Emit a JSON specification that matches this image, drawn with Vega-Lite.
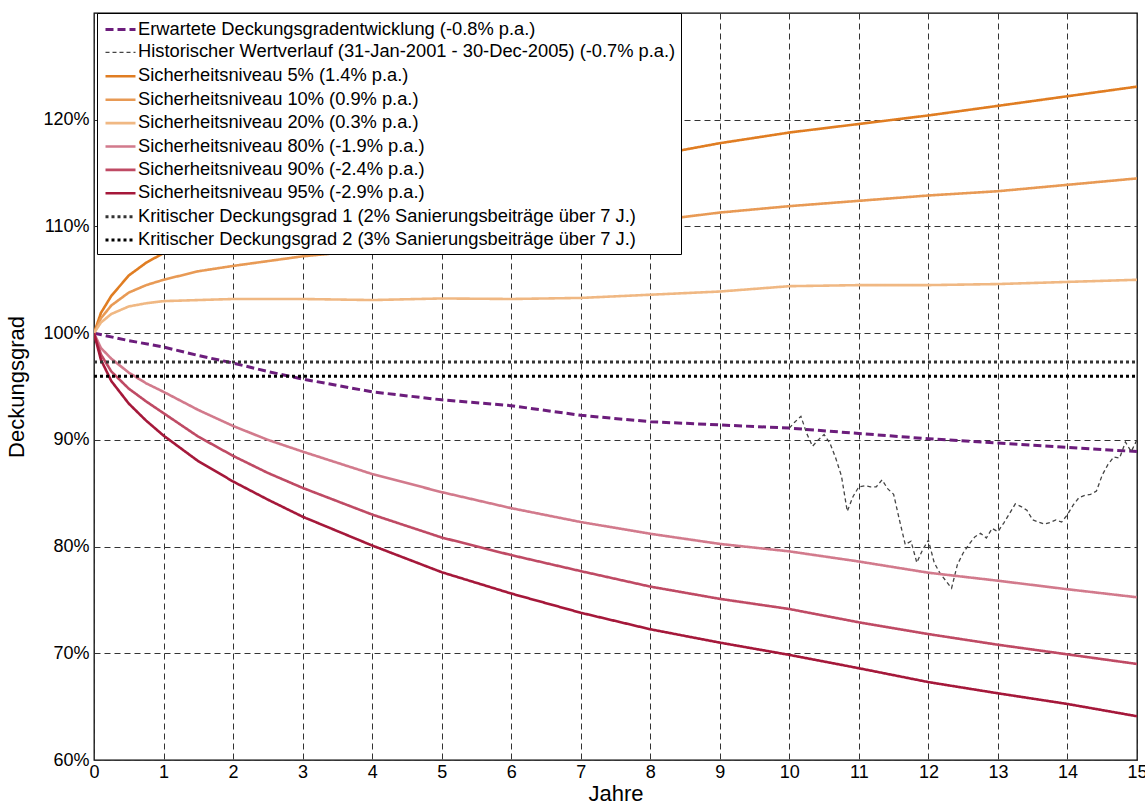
{
  "$schema": "https://vega.github.io/schema/vega-lite/v6.json",
  "autosize": {"type": "none"},
  "padding": {"left": 94, "top": 13, "right": 8, "bottom": 48},
  "width": 1043,
  "height": 747,
  "background": "white",
  "config": {
    "font": "Liberation Sans",
    "view": {"stroke": "#000000", "strokeWidth": 1.3},
    "axis": {
      "domain": false,
      "ticks": false,
      "grid": true,
      "gridColor": "#333333",
      "gridDash": [6, 4],
      "gridWidth": 1,
      "labelFont": "Liberation Sans",
      "labelFontSize": 18,
      "labelColor": "#000000",
      "labelFlush": false,
      "labelOverlap": false,
      "titleFont": "Liberation Sans",
      "titleFontSize": 22,
      "titleFontWeight": "normal",
      "titleColor": "#000000"
    },
    "legend": {
      "title": null,
      "orient": "none",
      "legendX": 3,
      "legendY": 0,
      "direction": "vertical",
      "fillColor": "white",
      "strokeColor": "#000000",
      "padding": 5,
      "rowPadding": 3.4,
      "labelFont": "Liberation Sans",
      "labelFontSize": 18.3,
      "labelColor": "#000000",
      "labelLimit": 900,
      "symbolType": "M-1.5,0H1.5",
      "symbolSize": 400,
      "symbolOffset": 7,
      "labelOffset": 6
    }
  },
  "data": {
    "values": [
      {"s": "Erwartete Deckungsgradentwicklung (-0.8% p.a.)", "t": 0, "v": 100},
      {"s": "Erwartete Deckungsgradentwicklung (-0.8% p.a.)", "t": 0.5, "v": 99.3},
      {"s": "Erwartete Deckungsgradentwicklung (-0.8% p.a.)", "t": 1, "v": 98.7},
      {"s": "Erwartete Deckungsgradentwicklung (-0.8% p.a.)", "t": 1.5, "v": 97.9},
      {"s": "Erwartete Deckungsgradentwicklung (-0.8% p.a.)", "t": 2, "v": 97.2},
      {"s": "Erwartete Deckungsgradentwicklung (-0.8% p.a.)", "t": 2.5, "v": 96.4},
      {"s": "Erwartete Deckungsgradentwicklung (-0.8% p.a.)", "t": 3, "v": 95.7},
      {"s": "Erwartete Deckungsgradentwicklung (-0.8% p.a.)", "t": 4, "v": 94.5},
      {"s": "Erwartete Deckungsgradentwicklung (-0.8% p.a.)", "t": 5, "v": 93.75},
      {"s": "Erwartete Deckungsgradentwicklung (-0.8% p.a.)", "t": 6, "v": 93.2},
      {"s": "Erwartete Deckungsgradentwicklung (-0.8% p.a.)", "t": 7, "v": 92.3},
      {"s": "Erwartete Deckungsgradentwicklung (-0.8% p.a.)", "t": 8, "v": 91.7},
      {"s": "Erwartete Deckungsgradentwicklung (-0.8% p.a.)", "t": 9, "v": 91.4},
      {"s": "Erwartete Deckungsgradentwicklung (-0.8% p.a.)", "t": 10, "v": 91.1},
      {"s": "Erwartete Deckungsgradentwicklung (-0.8% p.a.)", "t": 11, "v": 90.6},
      {"s": "Erwartete Deckungsgradentwicklung (-0.8% p.a.)", "t": 12, "v": 90.1},
      {"s": "Erwartete Deckungsgradentwicklung (-0.8% p.a.)", "t": 13, "v": 89.7},
      {"s": "Erwartete Deckungsgradentwicklung (-0.8% p.a.)", "t": 14, "v": 89.3},
      {"s": "Erwartete Deckungsgradentwicklung (-0.8% p.a.)", "t": 15, "v": 88.9},

      {"s": "Historischer Wertverlauf (31-Jan-2001 - 30-Dec-2005) (-0.7% p.a.)", "t": 10.0, "v": 91.1},
      {"s": "Historischer Wertverlauf (31-Jan-2001 - 30-Dec-2005) (-0.7% p.a.)", "t": 10.0833, "v": 91.7},
      {"s": "Historischer Wertverlauf (31-Jan-2001 - 30-Dec-2005) (-0.7% p.a.)", "t": 10.1667, "v": 92.2},
      {"s": "Historischer Wertverlauf (31-Jan-2001 - 30-Dec-2005) (-0.7% p.a.)", "t": 10.25, "v": 90.6},
      {"s": "Historischer Wertverlauf (31-Jan-2001 - 30-Dec-2005) (-0.7% p.a.)", "t": 10.3333, "v": 89.4},
      {"s": "Historischer Wertverlauf (31-Jan-2001 - 30-Dec-2005) (-0.7% p.a.)", "t": 10.4167, "v": 90.0},
      {"s": "Historischer Wertverlauf (31-Jan-2001 - 30-Dec-2005) (-0.7% p.a.)", "t": 10.5, "v": 90.5},
      {"s": "Historischer Wertverlauf (31-Jan-2001 - 30-Dec-2005) (-0.7% p.a.)", "t": 10.5833, "v": 89.7},
      {"s": "Historischer Wertverlauf (31-Jan-2001 - 30-Dec-2005) (-0.7% p.a.)", "t": 10.6667, "v": 88.3},
      {"s": "Historischer Wertverlauf (31-Jan-2001 - 30-Dec-2005) (-0.7% p.a.)", "t": 10.75, "v": 86.6},
      {"s": "Historischer Wertverlauf (31-Jan-2001 - 30-Dec-2005) (-0.7% p.a.)", "t": 10.8333, "v": 83.3},
      {"s": "Historischer Wertverlauf (31-Jan-2001 - 30-Dec-2005) (-0.7% p.a.)", "t": 10.9167, "v": 84.7},
      {"s": "Historischer Wertverlauf (31-Jan-2001 - 30-Dec-2005) (-0.7% p.a.)", "t": 11.0, "v": 85.6},
      {"s": "Historischer Wertverlauf (31-Jan-2001 - 30-Dec-2005) (-0.7% p.a.)", "t": 11.0833, "v": 85.7},
      {"s": "Historischer Wertverlauf (31-Jan-2001 - 30-Dec-2005) (-0.7% p.a.)", "t": 11.1667, "v": 85.6},
      {"s": "Historischer Wertverlauf (31-Jan-2001 - 30-Dec-2005) (-0.7% p.a.)", "t": 11.25, "v": 85.6},
      {"s": "Historischer Wertverlauf (31-Jan-2001 - 30-Dec-2005) (-0.7% p.a.)", "t": 11.3333, "v": 86.25},
      {"s": "Historischer Wertverlauf (31-Jan-2001 - 30-Dec-2005) (-0.7% p.a.)", "t": 11.4167, "v": 85.4},
      {"s": "Historischer Wertverlauf (31-Jan-2001 - 30-Dec-2005) (-0.7% p.a.)", "t": 11.5, "v": 84.9},
      {"s": "Historischer Wertverlauf (31-Jan-2001 - 30-Dec-2005) (-0.7% p.a.)", "t": 11.5833, "v": 82.5},
      {"s": "Historischer Wertverlauf (31-Jan-2001 - 30-Dec-2005) (-0.7% p.a.)", "t": 11.6667, "v": 80.2},
      {"s": "Historischer Wertverlauf (31-Jan-2001 - 30-Dec-2005) (-0.7% p.a.)", "t": 11.75, "v": 80.5},
      {"s": "Historischer Wertverlauf (31-Jan-2001 - 30-Dec-2005) (-0.7% p.a.)", "t": 11.8333, "v": 78.5},
      {"s": "Historischer Wertverlauf (31-Jan-2001 - 30-Dec-2005) (-0.7% p.a.)", "t": 11.9167, "v": 79.7},
      {"s": "Historischer Wertverlauf (31-Jan-2001 - 30-Dec-2005) (-0.7% p.a.)", "t": 12.0, "v": 80.6},
      {"s": "Historischer Wertverlauf (31-Jan-2001 - 30-Dec-2005) (-0.7% p.a.)", "t": 12.0833, "v": 78.5},
      {"s": "Historischer Wertverlauf (31-Jan-2001 - 30-Dec-2005) (-0.7% p.a.)", "t": 12.1667, "v": 77.5},
      {"s": "Historischer Wertverlauf (31-Jan-2001 - 30-Dec-2005) (-0.7% p.a.)", "t": 12.25, "v": 76.8},
      {"s": "Historischer Wertverlauf (31-Jan-2001 - 30-Dec-2005) (-0.7% p.a.)", "t": 12.3333, "v": 76.1},
      {"s": "Historischer Wertverlauf (31-Jan-2001 - 30-Dec-2005) (-0.7% p.a.)", "t": 12.4167, "v": 78.3},
      {"s": "Historischer Wertverlauf (31-Jan-2001 - 30-Dec-2005) (-0.7% p.a.)", "t": 12.5, "v": 79.4},
      {"s": "Historischer Wertverlauf (31-Jan-2001 - 30-Dec-2005) (-0.7% p.a.)", "t": 12.5833, "v": 80.2},
      {"s": "Historischer Wertverlauf (31-Jan-2001 - 30-Dec-2005) (-0.7% p.a.)", "t": 12.6667, "v": 80.9},
      {"s": "Historischer Wertverlauf (31-Jan-2001 - 30-Dec-2005) (-0.7% p.a.)", "t": 12.75, "v": 81.25},
      {"s": "Historischer Wertverlauf (31-Jan-2001 - 30-Dec-2005) (-0.7% p.a.)", "t": 12.8333, "v": 80.8},
      {"s": "Historischer Wertverlauf (31-Jan-2001 - 30-Dec-2005) (-0.7% p.a.)", "t": 12.9167, "v": 81.7},
      {"s": "Historischer Wertverlauf (31-Jan-2001 - 30-Dec-2005) (-0.7% p.a.)", "t": 13.0, "v": 81.4},
      {"s": "Historischer Wertverlauf (31-Jan-2001 - 30-Dec-2005) (-0.7% p.a.)", "t": 13.0833, "v": 82.2},
      {"s": "Historischer Wertverlauf (31-Jan-2001 - 30-Dec-2005) (-0.7% p.a.)", "t": 13.1667, "v": 83.1},
      {"s": "Historischer Wertverlauf (31-Jan-2001 - 30-Dec-2005) (-0.7% p.a.)", "t": 13.25, "v": 84.0},
      {"s": "Historischer Wertverlauf (31-Jan-2001 - 30-Dec-2005) (-0.7% p.a.)", "t": 13.3333, "v": 83.75},
      {"s": "Historischer Wertverlauf (31-Jan-2001 - 30-Dec-2005) (-0.7% p.a.)", "t": 13.4167, "v": 83.4},
      {"s": "Historischer Wertverlauf (31-Jan-2001 - 30-Dec-2005) (-0.7% p.a.)", "t": 13.5, "v": 82.5},
      {"s": "Historischer Wertverlauf (31-Jan-2001 - 30-Dec-2005) (-0.7% p.a.)", "t": 13.5833, "v": 82.3},
      {"s": "Historischer Wertverlauf (31-Jan-2001 - 30-Dec-2005) (-0.7% p.a.)", "t": 13.6667, "v": 82.1},
      {"s": "Historischer Wertverlauf (31-Jan-2001 - 30-Dec-2005) (-0.7% p.a.)", "t": 13.75, "v": 82.25},
      {"s": "Historischer Wertverlauf (31-Jan-2001 - 30-Dec-2005) (-0.7% p.a.)", "t": 13.8333, "v": 82.5},
      {"s": "Historischer Wertverlauf (31-Jan-2001 - 30-Dec-2005) (-0.7% p.a.)", "t": 13.9167, "v": 82.3},
      {"s": "Historischer Wertverlauf (31-Jan-2001 - 30-Dec-2005) (-0.7% p.a.)", "t": 14.0, "v": 83.0},
      {"s": "Historischer Wertverlauf (31-Jan-2001 - 30-Dec-2005) (-0.7% p.a.)", "t": 14.0833, "v": 83.9},
      {"s": "Historischer Wertverlauf (31-Jan-2001 - 30-Dec-2005) (-0.7% p.a.)", "t": 14.1667, "v": 84.6},
      {"s": "Historischer Wertverlauf (31-Jan-2001 - 30-Dec-2005) (-0.7% p.a.)", "t": 14.25, "v": 84.8},
      {"s": "Historischer Wertverlauf (31-Jan-2001 - 30-Dec-2005) (-0.7% p.a.)", "t": 14.3333, "v": 84.9},
      {"s": "Historischer Wertverlauf (31-Jan-2001 - 30-Dec-2005) (-0.7% p.a.)", "t": 14.4167, "v": 85.2},
      {"s": "Historischer Wertverlauf (31-Jan-2001 - 30-Dec-2005) (-0.7% p.a.)", "t": 14.5, "v": 86.7},
      {"s": "Historischer Wertverlauf (31-Jan-2001 - 30-Dec-2005) (-0.7% p.a.)", "t": 14.5833, "v": 87.7},
      {"s": "Historischer Wertverlauf (31-Jan-2001 - 30-Dec-2005) (-0.7% p.a.)", "t": 14.6667, "v": 88.4},
      {"s": "Historischer Wertverlauf (31-Jan-2001 - 30-Dec-2005) (-0.7% p.a.)", "t": 14.75, "v": 88.3},
      {"s": "Historischer Wertverlauf (31-Jan-2001 - 30-Dec-2005) (-0.7% p.a.)", "t": 14.8333, "v": 89.8},
      {"s": "Historischer Wertverlauf (31-Jan-2001 - 30-Dec-2005) (-0.7% p.a.)", "t": 14.9167, "v": 88.9},
      {"s": "Historischer Wertverlauf (31-Jan-2001 - 30-Dec-2005) (-0.7% p.a.)", "t": 15.0, "v": 90.0},

      {"s": "Sicherheitsniveau 5% (1.4% p.a.)", "t": 0, "v": 100},
      {"s": "Sicherheitsniveau 5% (1.4% p.a.)", "t": 0.1, "v": 101.9},
      {"s": "Sicherheitsniveau 5% (1.4% p.a.)", "t": 0.25, "v": 103.5},
      {"s": "Sicherheitsniveau 5% (1.4% p.a.)", "t": 0.5, "v": 105.4},
      {"s": "Sicherheitsniveau 5% (1.4% p.a.)", "t": 0.75, "v": 106.6},
      {"s": "Sicherheitsniveau 5% (1.4% p.a.)", "t": 1, "v": 107.5},
      {"s": "Sicherheitsniveau 5% (1.4% p.a.)", "t": 1.5, "v": 108.8},
      {"s": "Sicherheitsniveau 5% (1.4% p.a.)", "t": 2, "v": 109.7},
      {"s": "Sicherheitsniveau 5% (1.4% p.a.)", "t": 3, "v": 111.1},
      {"s": "Sicherheitsniveau 5% (1.4% p.a.)", "t": 4, "v": 112.3},
      {"s": "Sicherheitsniveau 5% (1.4% p.a.)", "t": 5, "v": 113.4},
      {"s": "Sicherheitsniveau 5% (1.4% p.a.)", "t": 6, "v": 114.5},
      {"s": "Sicherheitsniveau 5% (1.4% p.a.)", "t": 7, "v": 115.5},
      {"s": "Sicherheitsniveau 5% (1.4% p.a.)", "t": 8, "v": 116.6},
      {"s": "Sicherheitsniveau 5% (1.4% p.a.)", "t": 9, "v": 117.8},
      {"s": "Sicherheitsniveau 5% (1.4% p.a.)", "t": 10, "v": 118.8},
      {"s": "Sicherheitsniveau 5% (1.4% p.a.)", "t": 11, "v": 119.6},
      {"s": "Sicherheitsniveau 5% (1.4% p.a.)", "t": 12, "v": 120.4},
      {"s": "Sicherheitsniveau 5% (1.4% p.a.)", "t": 13, "v": 121.3},
      {"s": "Sicherheitsniveau 5% (1.4% p.a.)", "t": 14, "v": 122.2},
      {"s": "Sicherheitsniveau 5% (1.4% p.a.)", "t": 15, "v": 123.1},

      {"s": "Sicherheitsniveau 10% (0.9% p.a.)", "t": 0, "v": 100},
      {"s": "Sicherheitsniveau 10% (0.9% p.a.)", "t": 0.1, "v": 101.4},
      {"s": "Sicherheitsniveau 10% (0.9% p.a.)", "t": 0.25, "v": 102.6},
      {"s": "Sicherheitsniveau 10% (0.9% p.a.)", "t": 0.5, "v": 103.8},
      {"s": "Sicherheitsniveau 10% (0.9% p.a.)", "t": 0.75, "v": 104.5},
      {"s": "Sicherheitsniveau 10% (0.9% p.a.)", "t": 1, "v": 105.0},
      {"s": "Sicherheitsniveau 10% (0.9% p.a.)", "t": 1.5, "v": 105.8},
      {"s": "Sicherheitsniveau 10% (0.9% p.a.)", "t": 2, "v": 106.3},
      {"s": "Sicherheitsniveau 10% (0.9% p.a.)", "t": 3, "v": 107.2},
      {"s": "Sicherheitsniveau 10% (0.9% p.a.)", "t": 4, "v": 107.8},
      {"s": "Sicherheitsniveau 10% (0.9% p.a.)", "t": 5, "v": 108.5},
      {"s": "Sicherheitsniveau 10% (0.9% p.a.)", "t": 6, "v": 109.2},
      {"s": "Sicherheitsniveau 10% (0.9% p.a.)", "t": 7, "v": 109.8},
      {"s": "Sicherheitsniveau 10% (0.9% p.a.)", "t": 8, "v": 110.5},
      {"s": "Sicherheitsniveau 10% (0.9% p.a.)", "t": 9, "v": 111.3},
      {"s": "Sicherheitsniveau 10% (0.9% p.a.)", "t": 10, "v": 111.9},
      {"s": "Sicherheitsniveau 10% (0.9% p.a.)", "t": 11, "v": 112.4},
      {"s": "Sicherheitsniveau 10% (0.9% p.a.)", "t": 12, "v": 112.9},
      {"s": "Sicherheitsniveau 10% (0.9% p.a.)", "t": 13, "v": 113.3},
      {"s": "Sicherheitsniveau 10% (0.9% p.a.)", "t": 14, "v": 113.9},
      {"s": "Sicherheitsniveau 10% (0.9% p.a.)", "t": 15, "v": 114.5},

      {"s": "Sicherheitsniveau 20% (0.3% p.a.)", "t": 0, "v": 100},
      {"s": "Sicherheitsniveau 20% (0.3% p.a.)", "t": 0.1, "v": 101.0},
      {"s": "Sicherheitsniveau 20% (0.3% p.a.)", "t": 0.25, "v": 101.8},
      {"s": "Sicherheitsniveau 20% (0.3% p.a.)", "t": 0.5, "v": 102.5},
      {"s": "Sicherheitsniveau 20% (0.3% p.a.)", "t": 0.75, "v": 102.8},
      {"s": "Sicherheitsniveau 20% (0.3% p.a.)", "t": 1, "v": 103.0},
      {"s": "Sicherheitsniveau 20% (0.3% p.a.)", "t": 1.5, "v": 103.1},
      {"s": "Sicherheitsniveau 20% (0.3% p.a.)", "t": 2, "v": 103.2},
      {"s": "Sicherheitsniveau 20% (0.3% p.a.)", "t": 3, "v": 103.2},
      {"s": "Sicherheitsniveau 20% (0.3% p.a.)", "t": 4, "v": 103.1},
      {"s": "Sicherheitsniveau 20% (0.3% p.a.)", "t": 5, "v": 103.25},
      {"s": "Sicherheitsniveau 20% (0.3% p.a.)", "t": 6, "v": 103.2},
      {"s": "Sicherheitsniveau 20% (0.3% p.a.)", "t": 7, "v": 103.3},
      {"s": "Sicherheitsniveau 20% (0.3% p.a.)", "t": 8, "v": 103.6},
      {"s": "Sicherheitsniveau 20% (0.3% p.a.)", "t": 9, "v": 103.9},
      {"s": "Sicherheitsniveau 20% (0.3% p.a.)", "t": 10, "v": 104.4},
      {"s": "Sicherheitsniveau 20% (0.3% p.a.)", "t": 11, "v": 104.5},
      {"s": "Sicherheitsniveau 20% (0.3% p.a.)", "t": 12, "v": 104.5},
      {"s": "Sicherheitsniveau 20% (0.3% p.a.)", "t": 13, "v": 104.6},
      {"s": "Sicherheitsniveau 20% (0.3% p.a.)", "t": 14, "v": 104.8},
      {"s": "Sicherheitsniveau 20% (0.3% p.a.)", "t": 15, "v": 105.0},

      {"s": "Sicherheitsniveau 80% (-1.9% p.a.)", "t": 0, "v": 100},
      {"s": "Sicherheitsniveau 80% (-1.9% p.a.)", "t": 0.1, "v": 98.6},
      {"s": "Sicherheitsniveau 80% (-1.9% p.a.)", "t": 0.25, "v": 97.6},
      {"s": "Sicherheitsniveau 80% (-1.9% p.a.)", "t": 0.5, "v": 96.3},
      {"s": "Sicherheitsniveau 80% (-1.9% p.a.)", "t": 0.75, "v": 95.3},
      {"s": "Sicherheitsniveau 80% (-1.9% p.a.)", "t": 1, "v": 94.5},
      {"s": "Sicherheitsniveau 80% (-1.9% p.a.)", "t": 1.5, "v": 92.8},
      {"s": "Sicherheitsniveau 80% (-1.9% p.a.)", "t": 2, "v": 91.3},
      {"s": "Sicherheitsniveau 80% (-1.9% p.a.)", "t": 2.5, "v": 90.0},
      {"s": "Sicherheitsniveau 80% (-1.9% p.a.)", "t": 3, "v": 88.9},
      {"s": "Sicherheitsniveau 80% (-1.9% p.a.)", "t": 4, "v": 86.8},
      {"s": "Sicherheitsniveau 80% (-1.9% p.a.)", "t": 5, "v": 85.1},
      {"s": "Sicherheitsniveau 80% (-1.9% p.a.)", "t": 6, "v": 83.6},
      {"s": "Sicherheitsniveau 80% (-1.9% p.a.)", "t": 7, "v": 82.3},
      {"s": "Sicherheitsniveau 80% (-1.9% p.a.)", "t": 8, "v": 81.2},
      {"s": "Sicherheitsniveau 80% (-1.9% p.a.)", "t": 9, "v": 80.25},
      {"s": "Sicherheitsniveau 80% (-1.9% p.a.)", "t": 10, "v": 79.55},
      {"s": "Sicherheitsniveau 80% (-1.9% p.a.)", "t": 11, "v": 78.6},
      {"s": "Sicherheitsniveau 80% (-1.9% p.a.)", "t": 12, "v": 77.55},
      {"s": "Sicherheitsniveau 80% (-1.9% p.a.)", "t": 13, "v": 76.8},
      {"s": "Sicherheitsniveau 80% (-1.9% p.a.)", "t": 14, "v": 76.0},
      {"s": "Sicherheitsniveau 80% (-1.9% p.a.)", "t": 15, "v": 75.25},

      {"s": "Sicherheitsniveau 90% (-2.4% p.a.)", "t": 0, "v": 100},
      {"s": "Sicherheitsniveau 90% (-2.4% p.a.)", "t": 0.1, "v": 98.0},
      {"s": "Sicherheitsniveau 90% (-2.4% p.a.)", "t": 0.25, "v": 96.4},
      {"s": "Sicherheitsniveau 90% (-2.4% p.a.)", "t": 0.5, "v": 94.8},
      {"s": "Sicherheitsniveau 90% (-2.4% p.a.)", "t": 0.75, "v": 93.6},
      {"s": "Sicherheitsniveau 90% (-2.4% p.a.)", "t": 1, "v": 92.5},
      {"s": "Sicherheitsniveau 90% (-2.4% p.a.)", "t": 1.5, "v": 90.3},
      {"s": "Sicherheitsniveau 90% (-2.4% p.a.)", "t": 2, "v": 88.5},
      {"s": "Sicherheitsniveau 90% (-2.4% p.a.)", "t": 2.5, "v": 86.9},
      {"s": "Sicherheitsniveau 90% (-2.4% p.a.)", "t": 3, "v": 85.5},
      {"s": "Sicherheitsniveau 90% (-2.4% p.a.)", "t": 4, "v": 83.0},
      {"s": "Sicherheitsniveau 90% (-2.4% p.a.)", "t": 5, "v": 80.85},
      {"s": "Sicherheitsniveau 90% (-2.4% p.a.)", "t": 6, "v": 79.2},
      {"s": "Sicherheitsniveau 90% (-2.4% p.a.)", "t": 7, "v": 77.7},
      {"s": "Sicherheitsniveau 90% (-2.4% p.a.)", "t": 8, "v": 76.25},
      {"s": "Sicherheitsniveau 90% (-2.4% p.a.)", "t": 9, "v": 75.1},
      {"s": "Sicherheitsniveau 90% (-2.4% p.a.)", "t": 10, "v": 74.15},
      {"s": "Sicherheitsniveau 90% (-2.4% p.a.)", "t": 11, "v": 72.9},
      {"s": "Sicherheitsniveau 90% (-2.4% p.a.)", "t": 12, "v": 71.8},
      {"s": "Sicherheitsniveau 90% (-2.4% p.a.)", "t": 13, "v": 70.8},
      {"s": "Sicherheitsniveau 90% (-2.4% p.a.)", "t": 14, "v": 69.9},
      {"s": "Sicherheitsniveau 90% (-2.4% p.a.)", "t": 15, "v": 69.0},

      {"s": "Sicherheitsniveau 95% (-2.9% p.a.)", "t": 0, "v": 100},
      {"s": "Sicherheitsniveau 95% (-2.9% p.a.)", "t": 0.1, "v": 97.5},
      {"s": "Sicherheitsniveau 95% (-2.9% p.a.)", "t": 0.25, "v": 95.5},
      {"s": "Sicherheitsniveau 95% (-2.9% p.a.)", "t": 0.5, "v": 93.4},
      {"s": "Sicherheitsniveau 95% (-2.9% p.a.)", "t": 0.75, "v": 91.8},
      {"s": "Sicherheitsniveau 95% (-2.9% p.a.)", "t": 1, "v": 90.4},
      {"s": "Sicherheitsniveau 95% (-2.9% p.a.)", "t": 1.5, "v": 88.0},
      {"s": "Sicherheitsniveau 95% (-2.9% p.a.)", "t": 2, "v": 86.1},
      {"s": "Sicherheitsniveau 95% (-2.9% p.a.)", "t": 2.5, "v": 84.4},
      {"s": "Sicherheitsniveau 95% (-2.9% p.a.)", "t": 3, "v": 82.8},
      {"s": "Sicherheitsniveau 95% (-2.9% p.a.)", "t": 4, "v": 80.1},
      {"s": "Sicherheitsniveau 95% (-2.9% p.a.)", "t": 5, "v": 77.6},
      {"s": "Sicherheitsniveau 95% (-2.9% p.a.)", "t": 6, "v": 75.6},
      {"s": "Sicherheitsniveau 95% (-2.9% p.a.)", "t": 7, "v": 73.8},
      {"s": "Sicherheitsniveau 95% (-2.9% p.a.)", "t": 8, "v": 72.25},
      {"s": "Sicherheitsniveau 95% (-2.9% p.a.)", "t": 9, "v": 71.0},
      {"s": "Sicherheitsniveau 95% (-2.9% p.a.)", "t": 10, "v": 69.85},
      {"s": "Sicherheitsniveau 95% (-2.9% p.a.)", "t": 11, "v": 68.6},
      {"s": "Sicherheitsniveau 95% (-2.9% p.a.)", "t": 12, "v": 67.3},
      {"s": "Sicherheitsniveau 95% (-2.9% p.a.)", "t": 13, "v": 66.25},
      {"s": "Sicherheitsniveau 95% (-2.9% p.a.)", "t": 14, "v": 65.25},
      {"s": "Sicherheitsniveau 95% (-2.9% p.a.)", "t": 15, "v": 64.1},

      {"s": "Kritischer Deckungsgrad 1 (2% Sanierungsbeiträge über 7 J.)", "t": 0, "v": 97.3},
      {"s": "Kritischer Deckungsgrad 1 (2% Sanierungsbeiträge über 7 J.)", "t": 15, "v": 97.3},
      {"s": "Kritischer Deckungsgrad 2 (3% Sanierungsbeiträge über 7 J.)", "t": 0, "v": 95.95},
      {"s": "Kritischer Deckungsgrad 2 (3% Sanierungsbeiträge über 7 J.)", "t": 15, "v": 95.95}
    ]
  },
  "mark": {"type": "line", "clip": true},
  "encoding": {
    "x": {
      "field": "t",
      "type": "quantitative",
      "scale": {"domain": [0, 15], "nice": false, "zero": false},
      "axis": {
        "title": "Jahre",
        "values": [0, 1, 2, 3, 4, 5, 6, 7, 8, 9, 10, 11, 12, 13, 14, 15],
        "labelPadding": 3,
        "titlePadding": 2
      }
    },
    "y": {
      "field": "v",
      "type": "quantitative",
      "scale": {"domain": [60, 130], "nice": false, "zero": false},
      "axis": {
        "title": "Deckungsgrad",
        "values": [60, 70, 80, 90, 100, 110, 120],
        "labelExpr": "datum.value + '%'",
        "labelPadding": 5,
        "titlePadding": 14
      }
    },
    "color": {
      "field": "s",
      "type": "nominal",
      "scale": {
        "domain": [
          "Erwartete Deckungsgradentwicklung (-0.8% p.a.)",
          "Historischer Wertverlauf (31-Jan-2001 - 30-Dec-2005) (-0.7% p.a.)",
          "Sicherheitsniveau 5% (1.4% p.a.)",
          "Sicherheitsniveau 10% (0.9% p.a.)",
          "Sicherheitsniveau 20% (0.3% p.a.)",
          "Sicherheitsniveau 80% (-1.9% p.a.)",
          "Sicherheitsniveau 90% (-2.4% p.a.)",
          "Sicherheitsniveau 95% (-2.9% p.a.)",
          "Kritischer Deckungsgrad 1 (2% Sanierungsbeiträge über 7 J.)",
          "Kritischer Deckungsgrad 2 (3% Sanierungsbeiträge über 7 J.)"
        ],
        "range": ["#6c1d7c", "#444444", "#e07d22", "#e89a55", "#f0b883", "#d27a8c", "#bf4a64", "#a5183a", "#333333", "#000000"]
      }
    },
    "strokeDash": {
      "field": "s",
      "type": "nominal",
      "scale": {
        "domain": [
          "Erwartete Deckungsgradentwicklung (-0.8% p.a.)",
          "Historischer Wertverlauf (31-Jan-2001 - 30-Dec-2005) (-0.7% p.a.)",
          "Sicherheitsniveau 5% (1.4% p.a.)",
          "Sicherheitsniveau 10% (0.9% p.a.)",
          "Sicherheitsniveau 20% (0.3% p.a.)",
          "Sicherheitsniveau 80% (-1.9% p.a.)",
          "Sicherheitsniveau 90% (-2.4% p.a.)",
          "Sicherheitsniveau 95% (-2.9% p.a.)",
          "Kritischer Deckungsgrad 1 (2% Sanierungsbeiträge über 7 J.)",
          "Kritischer Deckungsgrad 2 (3% Sanierungsbeiträge über 7 J.)"
        ],
        "range": [[8, 4], [4, 3], [1, 0], [1, 0], [1, 0], [1, 0], [1, 0], [1, 0], [3, 3], [3, 3]]
      }
    },
    "strokeWidth": {
      "field": "s",
      "type": "nominal",
      "scale": {
        "type": "ordinal",
        "domain": [
          "Erwartete Deckungsgradentwicklung (-0.8% p.a.)",
          "Historischer Wertverlauf (31-Jan-2001 - 30-Dec-2005) (-0.7% p.a.)",
          "Sicherheitsniveau 5% (1.4% p.a.)",
          "Sicherheitsniveau 10% (0.9% p.a.)",
          "Sicherheitsniveau 20% (0.3% p.a.)",
          "Sicherheitsniveau 80% (-1.9% p.a.)",
          "Sicherheitsniveau 90% (-2.4% p.a.)",
          "Sicherheitsniveau 95% (-2.9% p.a.)",
          "Kritischer Deckungsgrad 1 (2% Sanierungsbeiträge über 7 J.)",
          "Kritischer Deckungsgrad 2 (3% Sanierungsbeiträge über 7 J.)"
        ],
        "range": [3, 1.3, 2.6, 2.6, 2.6, 2.6, 2.6, 2.6, 3, 3]
      }
    }
  }
}
